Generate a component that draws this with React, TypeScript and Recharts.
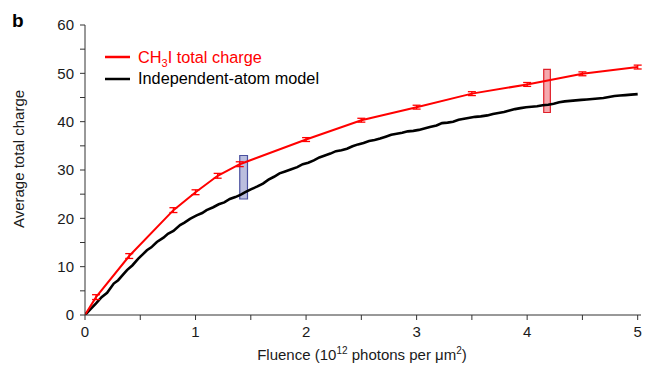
import React from "react";
import {
  LineChart,
  Line,
  XAxis,
  YAxis,
  ErrorBar,
  ReferenceArea,
} from "recharts";

// Red series: CH3I total charge (measured, with error bars)
const redX = [0, 0.1, 0.4, 0.8, 1.0, 1.2, 1.4, 2.0, 2.5, 3.0, 3.5, 4.0, 4.5, 5.0];
const redY = [0, 3.7, 12.2, 21.7, 25.4, 28.8, 31.2, 36.3, 40.3, 43.0, 45.8, 47.7, 49.9, 51.3];
const redErr = [0, 0.5, 0.5, 0.5, 0.5, 0.5, 0.5, 0.4, 0.4, 0.4, 0.4, 0.4, 0.4, 0.4];

// Black series: independent-atom model (dense, noisy)
const blackX = [
  0, 0.05, 0.1, 0.15, 0.2, 0.26, 0.3, 0.35, 0.38, 0.43, 0.48, 0.52, 0.56, 0.6, 0.65,
  0.71, 0.75, 0.8, 0.86, 0.9, 0.95, 1.01, 1.06, 1.1, 1.16, 1.21, 1.26, 1.31, 1.36,
  1.41, 1.45, 1.5, 1.56, 1.61, 1.66, 1.71, 1.76, 1.81, 1.86, 1.92, 1.97, 2.02, 2.07,
  2.12, 2.17, 2.22, 2.27, 2.32, 2.37, 2.42, 2.47, 2.52, 2.57, 2.62, 2.67, 2.72, 2.77,
  2.82, 2.87, 2.92, 2.97, 3.02, 3.07, 3.12, 3.18, 3.23, 3.28, 3.33, 3.38, 3.43, 3.48,
  3.53, 3.58, 3.64, 3.69, 3.74, 3.79, 3.84, 3.89, 3.94, 3.99, 4.04, 4.09, 4.14, 4.19,
  4.24, 4.29, 4.34, 4.39, 4.44, 4.49, 4.54, 4.59, 4.64, 4.69, 4.74, 4.79, 4.84, 4.89,
  4.94, 5.0,
];
const blackY = [
  0, 1.2, 2.4, 3.7, 4.6, 6.5, 7.2, 8.5, 9.3, 10.3, 11.6, 12.5, 13.4, 14.0, 15.1,
  16.0, 16.8, 17.4, 18.6, 19.1, 19.9, 20.6, 21.1, 21.7, 22.3, 22.9, 23.3, 24.0, 24.4,
  24.9, 25.4, 26.0, 26.6, 27.2, 28.0, 28.6, 29.3, 29.7, 30.1, 30.6, 31.2, 31.5, 32.0,
  32.6, 33.0, 33.4, 33.9, 34.1, 34.4, 34.9, 35.3, 35.6, 36.0, 36.2, 36.5, 36.9, 37.3,
  37.5, 37.7, 38.0, 38.1, 38.3, 38.6, 38.9, 39.2, 39.7, 39.8, 40.0, 40.4, 40.6, 40.8,
  41.0, 41.1, 41.3, 41.6, 41.8, 42.0, 42.3, 42.6, 42.8, 43.0, 43.1, 43.2, 43.4, 43.5,
  43.7, 44.0, 44.2, 44.3, 44.4, 44.5, 44.6, 44.7, 44.8, 44.9, 45.1, 45.3, 45.4, 45.5,
  45.6, 45.7,
];

// Highlight boxes
const blueBox = { x1: 1.40, x2: 1.47, y1: 24.0, y2: 33.0 };
const redBox = { x1: 4.15, x2: 4.21, y1: 41.9, y2: 50.8 };

const xTicks = [0, 0.5, 1, 1.5, 2, 2.5, 3, 3.5, 4, 4.5, 5];
const yTicks = [0, 5, 10, 15, 20, 25, 30, 35, 40, 45, 50, 55, 60];

const redData = redX.map((x, i) => ({ x, y: redY[i], err: redErr[i] }));
const blackData = blackX.map((x, i) => ({ x, y: blackY[i] }));

const FONT = "'Liberation Sans', Arial, Helvetica, sans-serif";
const AX = "#333";

export default function App() {
  return (
    <div style={{ position: "absolute", left: 0, top: 0, width: 645, height: 367, background: "#fff" }}>
      <LineChart
        width={645}
        height={367}
        margin={{ top: 25, right: 4, bottom: 22, left: 40 }}
        style={{ fontFamily: FONT }}
      >
        <XAxis
          dataKey="x"
          type="number"
          domain={[0, 5.03]}
          allowDataOverflow
          ticks={xTicks}
          interval={0}
          tickFormatter={(v: number) => (Number.isInteger(v) ? String(v) : "")}
          tickSize={5}
          tickMargin={6}
          height={30}
          stroke={AX}
          tick={{ fill: "#1a1a1a", fontSize: 15, fontFamily: FONT }}
        />
        <XAxis
          xAxisId="top"
          dataKey="x"
          type="number"
          orientation="top"
          mirror
          height={0}
          domain={[0, 5.03]}
          allowDataOverflow
          ticks={xTicks}
          interval={0}
          tick={false}
          tickSize={4}
          stroke={AX}
        />
        <YAxis
          type="number"
          domain={[0, 60]}
          allowDataOverflow
          ticks={yTicks}
          interval={0}
          tickFormatter={(v: number) => (v % 10 === 0 ? String(v) : "")}
          tickSize={5}
          tickMargin={6}
          width={45}
          stroke={AX}
          tick={{ fill: "#1a1a1a", fontSize: 15, fontFamily: FONT }}
        />
        <YAxis
          yAxisId="right"
          type="number"
          orientation="right"
          mirror
          width={0}
          domain={[0, 60]}
          allowDataOverflow
          ticks={yTicks}
          interval={0}
          tick={false}
          tickSize={4}
          stroke={AX}
        />
        <Line
          data={blackData}
          dataKey="y"
          type="linear"
          stroke="#000"
          strokeWidth={2.6}
          dot={false}
          activeDot={false}
          isAnimationActive={false}
        />
        <Line
          data={redData}
          dataKey="y"
          type="linear"
          stroke="#ff0000"
          strokeWidth={2}
          dot={false}
          activeDot={false}
          isAnimationActive={false}
        >
          <ErrorBar dataKey="err" width={4} stroke="#ff0000" strokeWidth={1.3} direction="y" />
        </Line>
        <ReferenceArea
          x1={blueBox.x1}
          x2={blueBox.x2}
          y1={blueBox.y1}
          y2={blueBox.y2}
          fill="#8e93c8"
          fillOpacity={0.6}
          stroke="#4a50a0"
          strokeWidth={1.2}
        />
        <ReferenceArea
          x1={redBox.x1}
          x2={redBox.x2}
          y1={redBox.y1}
          y2={redBox.y2}
          fill="#ee7078"
          fillOpacity={0.6}
          stroke="#e0202a"
          strokeWidth={1.2}
        />
      </LineChart>
      <svg
        width={645}
        height={367}
        style={{ position: "absolute", left: 0, top: 0, pointerEvents: "none", fontFamily: FONT }}
      >
        <text x={12} y={26.5} fontSize={19} fontWeight="bold" fill="#000">b</text>
        <line x1={105} x2={130} y1={57} y2={57} stroke="#ff0000" strokeWidth={2.5} />
        <text x={138} y={62.5} fontSize={16.3} fill="#ff0000">
          CH<tspan fontSize={11} dy={4}>3</tspan>
          <tspan dy={-4}>I total charge</tspan>
        </text>
        <line x1={105} x2={130} y1={79} y2={79} stroke="#000" strokeWidth={2.5} />
        <text x={138} y={84} fontSize={16.3} fill="#000">Independent-atom model</text>
        <text
          x={0}
          y={0}
          fontSize={15}
          fill="#1a1a1a"
          textAnchor="middle"
          transform="translate(24,159) rotate(-90)"
        >
          Average total charge
        </text>
        <text x={362} y={360} fontSize={15} fill="#1a1a1a" textAnchor="middle">
          Fluence (10<tspan fontSize={10} dy={-6}>12</tspan>
          <tspan dy={6}> photons per μm</tspan>
          <tspan fontSize={10} dy={-6}>2</tspan>
          <tspan dy={6}>)</tspan>
        </text>
      </svg>
    </div>
  );
}
